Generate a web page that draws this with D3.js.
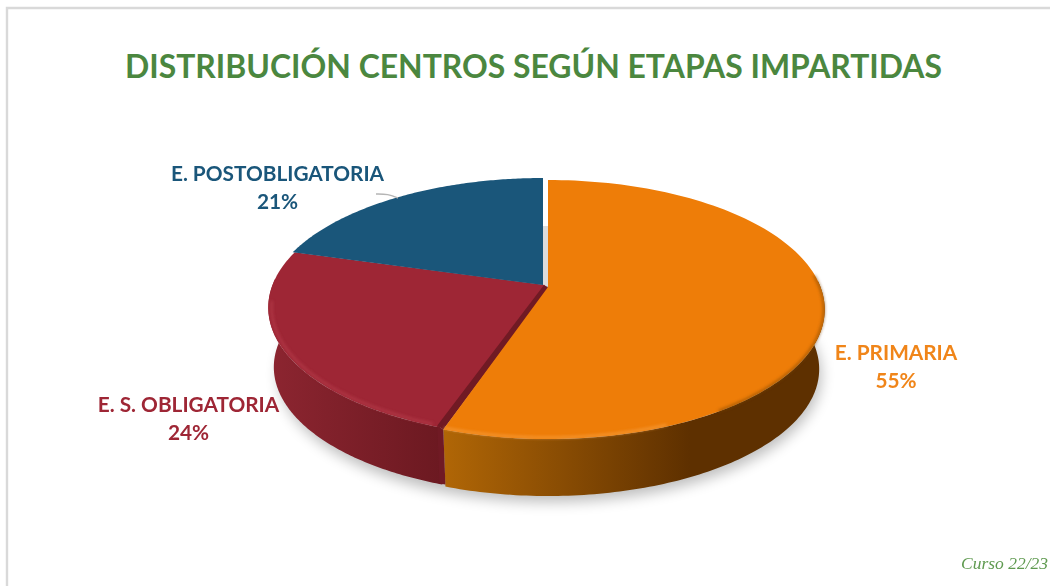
<!DOCTYPE html>
<html><head><meta charset="utf-8">
<script src="https://cdn.jsdelivr.net/npm/d3@7"></script>
<style>html,body{margin:0;padding:0;background:#fff}svg{display:block}text{font-family:Lato,"Open Sans",sans-serif;font-weight:700}</style>
</head><body><svg id="c" width="1050" height="586"></svg>
<script>
const categories=["E. PRIMARIA","E. S. OBLIGATORIA","E. POSTOBLIGATORIA"];
const values=[55.2,24.2,20.6];
const topColors=["#ee7d08","#9e2635","#1a567a"];
const sideStops=[["#b06606","#5e3000"],["#8c2530","#6c1921"],["#123c55","#123c55"]];
const cutColor="#701a24";
const titleText="DISTRIBUCIÓN CENTROS SEGÚN ETAPAS IMPARTIDAS";
const noteText="Curso 22/23";

const svg=d3.select("#c"),defs=svg.append("defs");
const cx=545,cy=286,k=.174,H=125.6,R=272.5,depth=60,shrink=.98;
const explode=[[3,1],[0,-1],[-2,-1]];
const pie=d3.pie().sort(null).value(d=>d)(values);
const proj=(a)=>{const u=Math.sin(a),v=-Math.cos(a),s=1/(1-k*v);return [R*u*s,H*v*s];};
const topPt=(a,d,r=1)=>{const p=proj(a);return [cx+p[0]*r+d[0],cy+p[1]*r+d[1]];};
const botPt=(a,d)=>{const p=proj(a);return [cx+p[0]*shrink+d[0],cy+p[1]*shrink+depth+d[1]];};
const line=d3.line();
const steps=(a,b)=>d3.range(0,121).map(i=>a+(b-a)*i/120);
const topPath=(s,d)=>[[cx+d[0],cy+d[1]],...steps(s.startAngle,s.endAngle).map(a=>topPt(a,d))];

const f=defs.append("filter").attr("id","sh").attr("x","-10%").attr("y","-10%").attr("width","120%").attr("height","130%");
f.append("feGaussianBlur").attr("stdDeviation",7);
const fb=defs.append("filter").attr("id","b").attr("x","-5%").attr("y","-5%").attr("width","110%").attr("height","110%");
fb.append("feGaussianBlur").attr("stdDeviation",1.5);
sideStops.forEach((st,i)=>{
  const g=defs.append("linearGradient").attr("id","side"+i).attr("gradientUnits","userSpaceOnUse")
    .attr("x1",i==0?445:270).attr("x2",i==0?690:440).attr("y1",0).attr("y2",0);
  g.append("stop").attr("offset",0).attr("stop-color",st[0]);
  g.append("stop").attr("offset",1).attr("stop-color",st[1]);
});

// frame
svg.append("path").attr("d",line([[7,586],[7,8],[1050,8]])).attr("fill","none").attr("stroke","#d9d9d9").attr("stroke-width",2.4);

// title
svg.append("text").attr("x",533.5).attr("y",78).attr("text-anchor","middle").attr("font-size",33)
  .attr("textLength",817).attr("lengthAdjust","spacingAndGlyphs").attr("fill","#4b873f").text(titleText);

// shadow
svg.append("path").attr("d",line(steps(0,2*Math.PI).map(a=>botPt(a,[5,7])))+"Z")
  .attr("fill","#000").attr("opacity",.26).attr("filter","url(#sh)");

// side walls: only the front part of the rim
const walls=svg.append("g");
pie.forEach((s,i)=>{
  const a0=Math.max(s.startAngle,Math.PI/2-.05),a1=Math.min(s.endAngle,Math.PI*1.5+.05);
  if(a1<=a0)return;
  const e=explode[i],as=steps(a0,a1);
  walls.append("path").attr("d",line([...as.map(a=>topPt(a,e)),...as.slice().reverse().map(a=>botPt(a,e))])+"Z")
    .attr("fill",`url(#side${i})`);
});

// light-grey inner wall in the upper gap
svg.append("path").attr("d",line([[cx-2,cy],[cx-2,cy-60],[cx+3,cy-60],[cx+3,cy]])+"Z").attr("fill","#dcdcdc");

// tops of the two slices that sit behind the cut
const tops=svg.append("g");
[1,2].forEach(i=>tops.append("path").attr("d",line(topPath(pie[i],explode[i]))+"Z").attr("fill",topColors[i]));

// cut wall of the red slice, seen through the gap beside the orange slice
const c0=pie[0].endAngle;
svg.append("path").attr("d",line([[cx-1,cy-1],topPt(c0,[-3,-3]),topPt(c0,[3,1]),[cx+4,cy+2]])+"Z").attr("fill",cutColor);
svg.append("path").attr("d",line([topPt(c0,[-3,-3]),topPt(c0,[3,1]),botPt(c0,[3,-1]),botPt(c0,[-3,-2])])+"Z").attr("fill",cutColor);

// orange top goes last
svg.append("path").attr("d",line(topPath(pie[0],explode[0]))+"Z").attr("fill",topColors[0]);

// edge shading on the top faces: dark and soft on the right, lit at the front
const edges=svg.append("g").attr("fill","none").attr("filter","url(#b)");
edges.append("path").attr("d",line(steps(Math.PI*.47,Math.PI*.82).map(a=>topPt(a,explode[0],.997))))
  .attr("stroke","#7a4300").attr("stroke-width",2).attr("opacity",.7);
edges.append("path").attr("d",line(steps(Math.PI*.88,c0).map(a=>topPt(a,explode[0],.99))))
  .attr("stroke","#f9a64c").attr("stroke-width",2).attr("opacity",.7);
edges.append("path").attr("d",line(steps(c0+.03,Math.PI*1.46).map(a=>topPt(a,explode[1],.988))))
  .attr("stroke","#c04654").attr("stroke-width",2.2).attr("opacity",.6);

// leader
svg.append("path").attr("d",d3.line().curve(d3.curveBasis)([[376,194],[388,194],[398,198]]))
  .attr("fill","none").attr("stroke","#b5b5b5").attr("stroke-width",1.4);

// labels
const labelPos=[[896,360],[188.5,412],[277.5,181]];
const labelColors=["#f08519","#9e2635","#1a567a"];
categories.forEach((c,i)=>{
  const t=svg.append("text").attr("text-anchor","middle").attr("font-size",20.8).attr("fill",labelColors[i]);
  t.append("tspan").attr("x",labelPos[i][0]).attr("y",labelPos[i][1]).text(c);
  t.append("tspan").attr("x",labelPos[i][0]).attr("y",labelPos[i][1]+28).text(Math.round(values[i])+"%");
});
svg.append("text").attr("x",1048).attr("y",569).attr("text-anchor","end").attr("font-size",17.5)
  .attr("fill","#5f9a50").attr("font-style","italic").style("font-family","'Liberation Serif',serif").style("font-weight",400).text(noteText);
</script></body></html>
